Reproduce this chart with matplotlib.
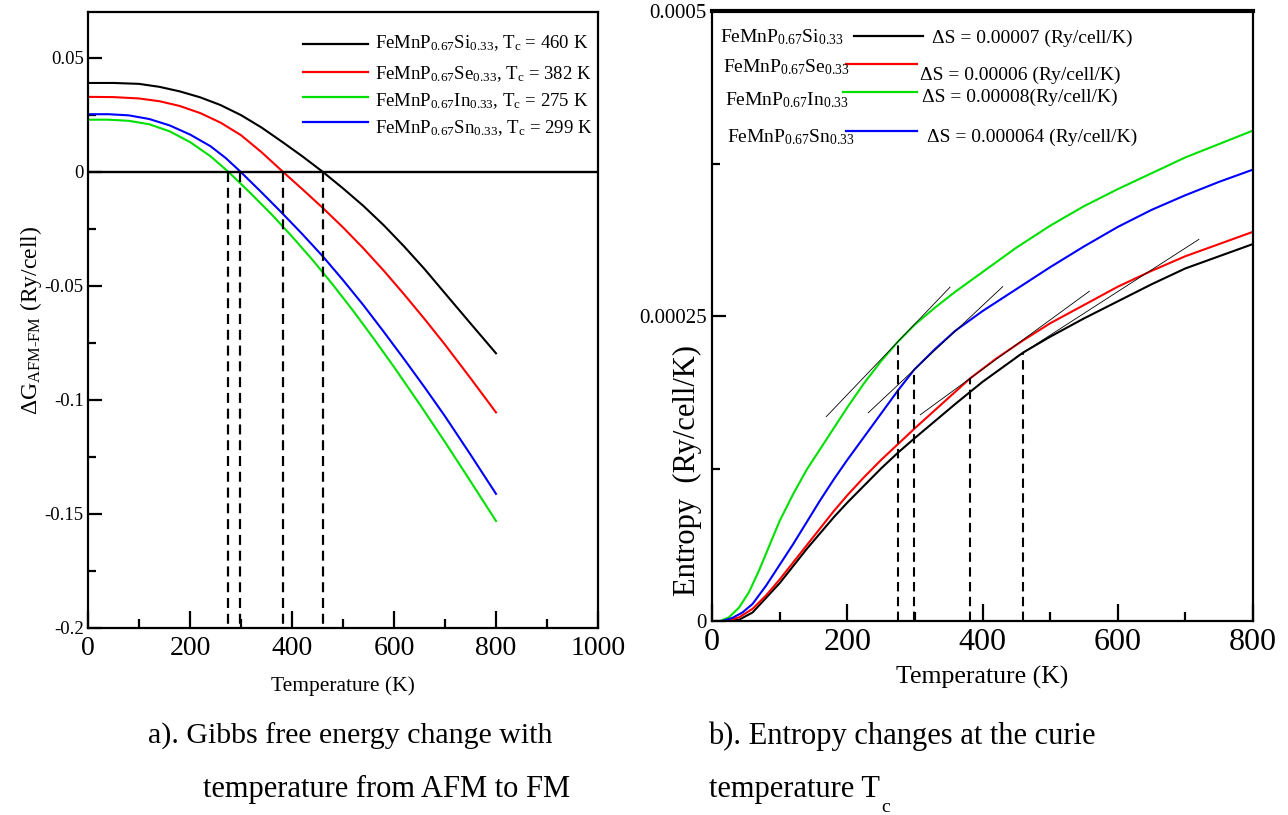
import matplotlib
matplotlib.use("Agg")
import matplotlib.pyplot as plt
from matplotlib.lines import Line2D
from matplotlib.ticker import MultipleLocator, FixedLocator, FixedFormatter

plt.rcParams['font.family'] = ['Liberation Serif', 'DejaVu Serif']
plt.rcParams['mathtext.fontset'] = 'custom'
plt.rcParams['mathtext.rm'] = 'Liberation Serif'
plt.rcParams['mathtext.it'] = 'Liberation Serif:italic'
plt.rcParams['mathtext.bf'] = 'Liberation Serif:bold'
plt.rcParams['axes.unicode_minus'] = False

# ---------------- data ----------------
compounds = ["Si", "Se", "In", "Sn"]
colors = ["#000000", "#ff0000", "#00e000", "#0000ff"]
curie_T = [460, 382, 275, 299]
delta_S_labels = ["0.00007 (Ry/cell/K)", "0.00006 (Ry/cell/K)",
                  "0.00008(Ry/cell/K)", "0.000064 (Ry/cell/K)"]

# Gibbs free energy difference dG(AFM-FM) in Ry/cell vs temperature (K)
g_T_si = [0, 50, 100, 140, 180, 220, 260, 300, 340, 380, 420, 460, 500, 540, 580, 620, 660,
          700, 750, 800]
g_si = [0.0389, 0.0389, 0.0385, 0.0372, 0.0352, 0.0326, 0.0292, 0.0248, 0.0194, 0.0132,
        0.0068, 0.0, -0.0073, -0.0150, -0.0235, -0.0328, -0.0427, -0.0533, -0.0665, -0.0796]
g_T_se = [0, 50, 100, 140, 180, 220, 260, 300, 340, 382, 420, 460, 500, 540, 580, 620, 660,
          700, 750, 800]
g_se = [0.0328, 0.0327, 0.0321, 0.0309, 0.0288, 0.0257, 0.0215, 0.0160, 0.0086, 0.0,
        -0.0076, -0.0158, -0.0244, -0.0336, -0.0434, -0.0538, -0.0646, -0.0758, -0.0905,
        -0.1055]
g_T_in = [0, 40, 80, 120, 160, 200, 240, 275, 320, 360, 400, 440, 480, 520, 560, 600, 650,
          700, 750, 800]
g_in = [0.0228, 0.0228, 0.0223, 0.0208, 0.0177, 0.0130, 0.0068, 0.0, -0.0097, -0.0187,
        -0.0284, -0.0386, -0.0495, -0.0610, -0.0731, -0.0856, -0.1018, -0.1185, -0.1357,
        -0.1531]
g_T_sn = [0, 40, 80, 120, 160, 200, 240, 270, 299, 340, 380, 420, 460, 500, 540, 580, 620,
          660, 700, 750, 800]
g_sn = [0.0252, 0.0252, 0.0247, 0.0231, 0.0203, 0.0163, 0.0112, 0.0060, 0.0, -0.0090,
        -0.0180, -0.0273, -0.0370, -0.0475, -0.0585, -0.0702, -0.0822, -0.0945, -0.1072,
        -0.1240, -0.1412]

# Entropy in Ry/cell/K vs temperature (K), values in units of 1e-6
s_T_si = [20, 40, 60, 80, 100, 120, 140, 160, 180, 200, 225, 250, 275, 300, 330, 360, 400,
          430, 460, 500, 550, 600, 650, 700, 750, 800]
s_si = [0, 1, 7, 19, 31, 45, 59, 72, 85, 97, 111, 125, 138, 150, 164, 178, 196, 208, 220,
        233, 248, 262, 276, 289, 299, 309]
s_T_se = [20, 40, 60, 80, 100, 120, 140, 160, 180, 200, 225, 250, 275, 300, 330, 360, 382,
          420, 460, 500, 550, 600, 650, 700, 750, 800]
s_se = [0, 3, 10, 21, 34, 48, 62, 76, 90, 103, 118, 132, 145, 158, 173, 188, 199, 215, 230,
        244, 259, 274, 287, 299, 309, 319]
s_T_in = [12, 25, 40, 55, 70, 85, 100, 120, 140, 160, 180, 200, 225, 250, 275, 300, 330,
          360, 400, 450, 500, 550, 600, 650, 700, 750, 800]
s_in = [0, 3, 11, 24, 42, 62, 82, 104, 124, 141, 158, 175, 195, 213, 229, 243, 257, 270,
        286, 306, 324, 340, 354, 367, 380, 391, 402]
s_T_sn = [15, 30, 45, 60, 80, 100, 120, 140, 160, 180, 200, 225, 250, 275, 299, 330, 360,
          400, 450, 500, 550, 600, 650, 700, 750, 800]
s_sn = [0, 2.5, 7, 14, 29, 46, 63, 81, 99, 116, 132, 151, 170, 189, 206, 223, 238, 254,
        272, 290, 307, 323, 337, 349, 360, 370]
entropy_unit = 1e-6

# Entropy at the Curie temperature and slope of the tangent drawn there
s_at_tc = [220e-6, 199e-6, 229e-6, 206e-6]
tangent_slope = [3.57e-7, 4.05e-7, 5.8e-7, 5.2e-7]
tangent_T_start = [450, 308, 169, 231]
tangent_T_end = [720, 558, 352, 430]

gibbs_series = [(g_T_si, g_si), (g_T_se, g_se), (g_T_in, g_in), (g_T_sn, g_sn)]
entropy_series = [(s_T_si, s_si), (s_T_se, s_se), (s_T_in, s_in), (s_T_sn, s_sn)]

g_yticks = [0.05, 0.0, -0.05, -0.1, -0.15, -0.2]
g_yticklabels = ["0.05", "0", "-0.05", "-0.1", "-0.15", "-0.2"]
s_yticks = [0.0, 0.00025, 0.0005]
s_yticklabels = ["0", "0.00025", "0.0005"]

# ---------------- figure ----------------
W, H = 1288, 815
fig = plt.figure(figsize=(W / 100, H / 100), dpi=100)


def fx(px):
    return px / W


def fy(py):
    return 1 - py / H


def style_axes(ax, xmaj_len, ymaj_len):
    for sp in ax.spines.values():
        sp.set_linewidth(1.6)
    ax.tick_params(which='both', direction='in', top=False, right=False, width=1.6)
    ax.tick_params(axis='x', which='major', length=xmaj_len)
    ax.tick_params(axis='x', which='minor', length=xmaj_len * 0.55)
    ax.tick_params(axis='y', which='major', length=ymaj_len)
    ax.tick_params(axis='y', which='minor', length=ymaj_len * 0.6)


# ---- (a) Gibbs free energy ----
ax1 = fig.add_axes([fx(88), fy(628), 510 / W, 616 / H])
ax1.set_xlim(0, 1000)
ax1.set_ylim(-0.2, 0.07)
for (t, g), c in zip(gibbs_series, colors):
    ax1.plot(t, g, color=c, lw=1.5)
ax1.axhline(0, color='k', lw=1.7)
for tc in curie_T:
    ax1.plot([tc, tc], [0, -0.2], color='k', lw=1.6, dashes=(4.5, 2.6), clip_on=False)

ax1.xaxis.set_major_locator(MultipleLocator(200))
ax1.xaxis.set_minor_locator(MultipleLocator(100))
ax1.yaxis.set_major_locator(FixedLocator(g_yticks))
ax1.yaxis.set_major_formatter(FixedFormatter(g_yticklabels))
ax1.yaxis.set_minor_locator(MultipleLocator(0.025))
style_axes(ax1, 12, 10)
ax1.tick_params(axis='x', labelsize=20, pad=6)
ax1.tick_params(axis='y', labelsize=13.5, pad=3)

ax1.set_xlabel("Temperature (K)", fontsize=15.5)
ax1.xaxis.label.set_va('center')
ax1.xaxis.set_label_coords(0.5, -0.094)
ax1.set_ylabel(r"ΔG$_{\mathrm{AFM}\text{-}\mathrm{FM}}$ (Ry/cell)", fontsize=17)
ax1.yaxis.label.set_va('center')
ax1.yaxis.set_label_coords(-0.112, 0.5)

# legend of panel (a)
leg_a_line_y = [44, 72, 97, 122]
leg_a_text_y = [48, 79, 106, 133]
for k in range(4):
    fig.add_artist(Line2D([fx(303), fx(368)], [fy(leg_a_line_y[k])] * 2,
                          transform=fig.transFigure, color=colors[k], lw=1.6))
    fig.text(fx(375), fy(leg_a_text_y[k]),
             r"FeMnP$_{\mathrm{0.67}}$%s$_{\mathrm{0.33}}$, T$_{\mathrm{c}}$ = %d K"
             % (compounds[k], curie_T[k]),
             fontsize=13.5, ha='left', va='baseline')

# ---- (b) Entropy ----
ax2 = fig.add_axes([fx(712), fy(621), 541 / W, 610 / H])
ax2.set_xlim(0, 800)
ax2.set_ylim(0, 0.0005)
for (t, s), c in zip(entropy_series, colors):
    ax2.plot(t, [v * entropy_unit for v in s], color=c, lw=1.5)
for k in range(4):
    ax2.plot([curie_T[k], curie_T[k]], [0, s_at_tc[k]], color='k', lw=1.5, dashes=(4.5, 2.6))
    t0, t1 = tangent_T_start[k], tangent_T_end[k]
    ax2.plot([t0, t1],
             [s_at_tc[k] + tangent_slope[k] * (t0 - curie_T[k]),
              s_at_tc[k] + tangent_slope[k] * (t1 - curie_T[k])],
             color='k', lw=0.6)

ax2.xaxis.set_major_locator(MultipleLocator(200))
ax2.xaxis.set_minor_locator(MultipleLocator(100))
ax2.yaxis.set_major_locator(FixedLocator(s_yticks))
ax2.yaxis.set_major_formatter(FixedFormatter(s_yticklabels))
ax2.yaxis.set_minor_locator(MultipleLocator(0.000125))
style_axes(ax2, 12, 10)
ax2.spines['top'].set_linewidth(3.0)
ax2.tick_params(axis='x', labelsize=23, pad=5)
ax2.tick_params(axis='y', labelsize=15, pad=4)

ax2.set_xlabel("Temperature (K)", fontsize=18.5)
ax2.xaxis.label.set_va('center')
ax2.xaxis.set_label_coords(0.5, -0.093)
ax2.set_ylabel("Entropy  (Ry/cell/K)", fontsize=22)
ax2.yaxis.label.set_va('center')
ax2.yaxis.set_label_coords(-0.046, 0.246)

# legend of panel (b)
leg_b_name_x = [720, 723, 725, 727]
leg_b_name_y = [42, 72, 105, 142]
leg_b_line = [(854, 923, 36), (846, 917, 64), (843, 917, 92), (846, 917, 131)]
leg_b_ds_x = [932, 920, 922, 927]
leg_b_ds_y = [43, 80, 102, 142]
for k in range(4):
    fig.text(fx(leg_b_name_x[k]), fy(leg_b_name_y[k]),
             r"FeMnP$_{\mathrm{0.67}}$%s$_{\mathrm{0.33}}$" % compounds[k],
             fontsize=14, ha='left', va='baseline')
    x0, x1, ly = leg_b_line[k]
    fig.add_artist(Line2D([fx(x0), fx(x1)], [fy(ly)] * 2,
                          transform=fig.transFigure, color=colors[k], lw=1.6))
    fig.text(fx(leg_b_ds_x[k]), fy(leg_b_ds_y[k]), "ΔS = " + delta_S_labels[k],
             fontsize=14, ha='left', va='baseline')

# ---- captions ----
cap_fs = 22
fig.text(fx(148), fy(744), "a). Gibbs free energy change with", fontsize=21.5, va='baseline')
fig.text(fx(203), fy(797), "temperature from AFM to FM", fontsize=cap_fs, va='baseline')
fig.text(fx(708), fy(744), "b). Entropy changes at the curie", fontsize=cap_fs, va='baseline')
t_line = fig.text(fx(709), fy(797), "temperature T", fontsize=cap_fs, va='baseline')
fig.canvas.draw()
bb = t_line.get_window_extent(renderer=fig.canvas.get_renderer())
fig.text(bb.x1 / W + 0.001, fy(812), "c", fontsize=14, va='baseline')

fig.savefig("out.png", dpi=100)
